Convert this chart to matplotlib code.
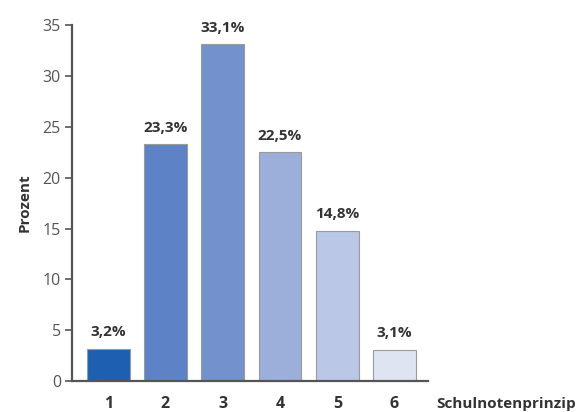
import matplotlib.pyplot as plt

noten = ['1', '2', '3', '4', '5', '6']
prozent = [3.2, 23.3, 33.1, 22.5, 14.8, 3.1]
labels = ['3,2%', '23,3%', '33,1%', '22,5%', '14,8%', '3,1%']
farben = ['#1f5fb2', '#5d82c6', '#7391cd', '#9cafdb', '#bac7e6', '#dfe4f3']

plt.rcParams['font.family'] = ['Open Sans', 'DejaVu Sans']

fig = plt.figure(figsize=(5.86, 4.12), dpi=100)
ax = fig.add_axes([0.123, 0.075, 0.607, 0.864])

x = list(range(1, len(noten) + 1))
ax.bar(x, prozent, width=0.75, color=farben, edgecolor='#9a9a9a', linewidth=0.8, zorder=2)

for xi, v, t in zip(x, prozent, labels):
    ax.text(xi, v + 0.9, t, ha='center', va='bottom', fontsize=11,
            fontweight='bold', color='#333333')

ax.set_xlim(0.37, 6.58)
ax.set_ylim(0, 35)
ax.set_yticks(range(0, 36, 5))
ax.set_xticks(x)
ax.set_xticklabels(noten, fontsize=11.5, fontweight='bold', color='#333333')

for s in ['top', 'right']:
    ax.spines[s].set_visible(False)
for s in ['left', 'bottom']:
    ax.spines[s].set_color('#555555')
    ax.spines[s].set_linewidth(1.6)

ax.tick_params(axis='y', length=5, width=1.2, color='#555555', labelsize=11.5,
               labelcolor='#555555', pad=3)
ax.tick_params(axis='x', length=0, pad=11)

ax.set_ylabel('Prozent', fontsize=11, fontweight='bold', color='#333333', labelpad=8)
fig.text(0.745, 0.003, 'Schulnotenprinzip', fontsize=11, fontweight='bold',
         color='#333333', ha='left', va='bottom')

plt.savefig('out.png', dpi=100)
